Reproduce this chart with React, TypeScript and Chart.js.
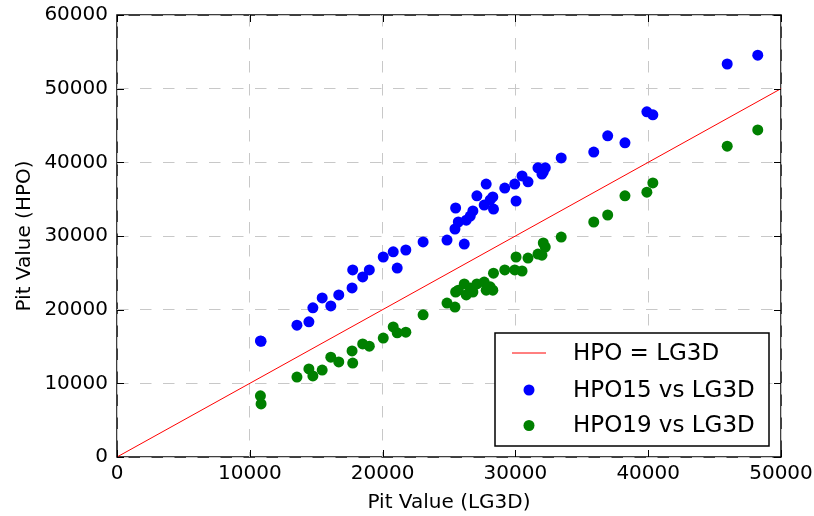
import React, { useEffect, useRef } from "react";
import { Chart, registerables } from "chart.js";

Chart.register(...registerables);

const lg3d = [10800, 10850, 13550, 14450, 14750, 15450, 16100, 16700, 17700, 17750, 18500, 19000, 20050, 20800, 21100, 21750, 23050, 24850, 25450, 25500, 25700, 26150, 26300, 26600, 26800, 27100, 27650, 27800, 28100, 28300, 28350, 29200, 29950, 30050, 30500, 30950, 31700, 32000, 32100, 32250, 33450, 35900, 36950, 38250, 39900, 40350, 45950, 48250];
const hpo15 = [15750, 15700, 17900, 18350, 20250, 21600, 20500, 22000, 22950, 25400, 24450, 25400, 27150, 27850, 25650, 28100, 29200, 29450, 30950, 33800, 31900, 28900, 32150, 32700, 33400, 35450, 34200, 37050, 34900, 35300, 33650, 36500, 37050, 34750, 38150, 37350, 39250, 38400, 38700, 39250, 40600, 41400, 43600, 42650, 46850, 46450, 53350, 54550];
const hpo19 = [8300, 7200, 10850, 11950, 11000, 11800, 13550, 12900, 14400, 12750, 15350, 15050, 16150, 17650, 16850, 16950, 19300, 20900, 20350, 22400, 22650, 23500, 22000, 22950, 22400, 23500, 23750, 22650, 23100, 22650, 24950, 25400, 25400, 27150, 25250, 27000, 27550, 27400, 29050, 28500, 29850, 31900, 32850, 35450, 35950, 37200, 42200, 44400];
const identityLine = [0, 50000];
const xTicks = [0, 10000, 20000, 30000, 40000, 50000];
const yTicks = [0, 10000, 20000, 30000, 40000, 50000, 60000];
const legendLabels = ["HPO = LG3D", "HPO15 vs LG3D", "HPO19 vs LG3D"];
const xTitle = "Pit Value (LG3D)";
const yTitle = "Pit Value (HPO)";

const FONT = "'DejaVu Sans', sans-serif";
const BLUE = "#0000ff";
const GREEN = "#008000";
const RED = "#ff0000";

const mplPlugin = {
  id: "mplFrame",
  beforeDraw(chart: any) {
    const { ctx, chartArea } = chart;
    const { left, top, right, bottom } = chartArea;
    ctx.save();
    ctx.fillStyle = "#ffffff";
    ctx.fillRect(0, 0, chart.width, chart.height);
    ctx.strokeStyle = "#000000";
    ctx.lineWidth = 1.5;
    ctx.strokeRect(left, top, right - left, bottom - top);
    ctx.restore();
  },
  afterDraw(chart: any) {
    const { ctx, chartArea } = chart;
    const { left, top, right, bottom } = chartArea;
    const xs = chart.scales.x;
    const ys = chart.scales.y;
    const tl = 7;
    ctx.save();
    ctx.strokeStyle = "#000000";
    ctx.lineWidth = 1;
    ctx.beginPath();
    xTicks.forEach((v) => {
      const px = Math.round(xs.getPixelForValue(v)) + 0.5;
      ctx.moveTo(px, bottom);
      ctx.lineTo(px, bottom - tl);
      ctx.moveTo(px, top);
      ctx.lineTo(px, top + tl);
    });
    yTicks.forEach((v) => {
      const py = Math.round(ys.getPixelForValue(v)) + 0.5;
      ctx.moveTo(left, py);
      ctx.lineTo(left + tl, py);
      ctx.moveTo(right, py);
      ctx.lineTo(right - tl, py);
    });
    ctx.stroke();

    // legend
    const w = 274;
    const h = 113;
    const lx = right - 12 - w;
    const ly = bottom - 11 - h;
    ctx.fillStyle = "#ffffff";
    ctx.fillRect(lx, ly, w, h);
    ctx.lineWidth = 1.5;
    ctx.strokeStyle = "#000000";
    ctx.strokeRect(lx, ly, w, h);
    const rows = [ly + 20, ly + 57, ly + 92.5];
    ctx.strokeStyle = RED;
    ctx.lineWidth = 1;
    ctx.beginPath();
    ctx.moveTo(lx + 17, rows[0]);
    ctx.lineTo(lx + 51, rows[0]);
    ctx.stroke();
    [BLUE, GREEN].forEach((c, i) => {
      ctx.fillStyle = c;
      ctx.beginPath();
      ctx.arc(lx + 34, rows[i + 1], 5.5, 0, Math.PI * 2);
      ctx.fill();
    });
    ctx.fillStyle = "#000000";
    ctx.font = `23px ${FONT}`;
    ctx.textBaseline = "middle";
    ctx.textAlign = "left";
    legendLabels.forEach((t, i) => {
      ctx.fillText(t, lx + 78, rows[i] + 1);
    });
    ctx.restore();
  },
};

export default function App() {
  const ref = useRef<HTMLCanvasElement | null>(null);
  useEffect(() => {
    if (!ref.current) return;
    const zeroPad = (scale: any) => {
      scale.paddingLeft = 0;
      scale.paddingRight = 0;
      scale.paddingTop = 0;
      scale.paddingBottom = 0;
    };
    const chart = new Chart(ref.current, {
      type: "scatter",
      data: {
        datasets: [
          {
            label: legendLabels[0],
            data: identityLine.map((v) => ({ x: v, y: v })),
            showLine: true,
            borderColor: RED,
            borderWidth: 1,
            pointRadius: 0,
            order: 3,
          },
          {
            label: legendLabels[1],
            data: lg3d.map((x, i) => ({ x, y: hpo15[i] })),
            backgroundColor: BLUE,
            borderWidth: 0,
            pointRadius: 5.5,
            order: 2,
          },
          {
            label: legendLabels[2],
            data: lg3d.map((x, i) => ({ x, y: hpo19[i] })),
            backgroundColor: GREEN,
            borderWidth: 0,
            pointRadius: 5.5,
            order: 1,
          },
        ],
      },
      options: {
        responsive: false,
        animation: false,
        events: [],
        layout: { padding: { left: 0, top: 15, right: 33, bottom: 0 } },
        plugins: { legend: { display: false }, tooltip: { enabled: false } },
        scales: {
          x: {
            type: "linear",
            min: 0,
            max: 50000,
            afterBuildTicks: (s: any) => {
              s.ticks = xTicks.map((v) => ({ value: v }));
            },
            afterFit: (s: any) => {
              s.height = 59;
              zeroPad(s);
            },
            ticks: {
              padding: 5,
              color: "#000",
              font: { family: FONT, size: 20 },
              maxRotation: 0,
              callback: (v: any) => String(v),
            },
            grid: {
              color: "#c8c8c8",
              lineWidth: 1,
              drawTicks: false,
            },
            border: { display: false, dash: [11.5, 11.5] },
            title: {
              display: true,
              text: xTitle,
              color: "#000",
              font: { family: FONT, size: 20 },
              padding: { top: 4, bottom: 1 },
            },
          },
          y: {
            type: "linear",
            min: 0,
            max: 60000,
            afterBuildTicks: (s: any) => {
              s.ticks = yTicks.map((v) => ({ value: v }));
            },
            afterFit: (s: any) => {
              s.width = 117;
              zeroPad(s);
            },
            ticks: {
              padding: 9,
              color: "#000",
              font: { family: FONT, size: 20 },
              callback: (v: any) => String(v),
            },
            grid: {
              color: "#c8c8c8",
              lineWidth: 1,
              drawTicks: false,
            },
            border: { display: false, dash: [11.5, 11.5] },
            title: {
              display: true,
              text: yTitle,
              color: "#000",
              font: { family: FONT, size: 20 },
              padding: { top: 13, bottom: 4 },
            },
          },
        },
      },
      plugins: [mplPlugin],
    } as any);
    return () => chart.destroy();
  }, []);
  return (
    <div style={{ position: "absolute", left: 0, top: 0, width: 814, height: 516, background: "#fff" }}>
      <canvas ref={ref} width={814} height={516} style={{ display: "block" }} />
    </div>
  );
}
